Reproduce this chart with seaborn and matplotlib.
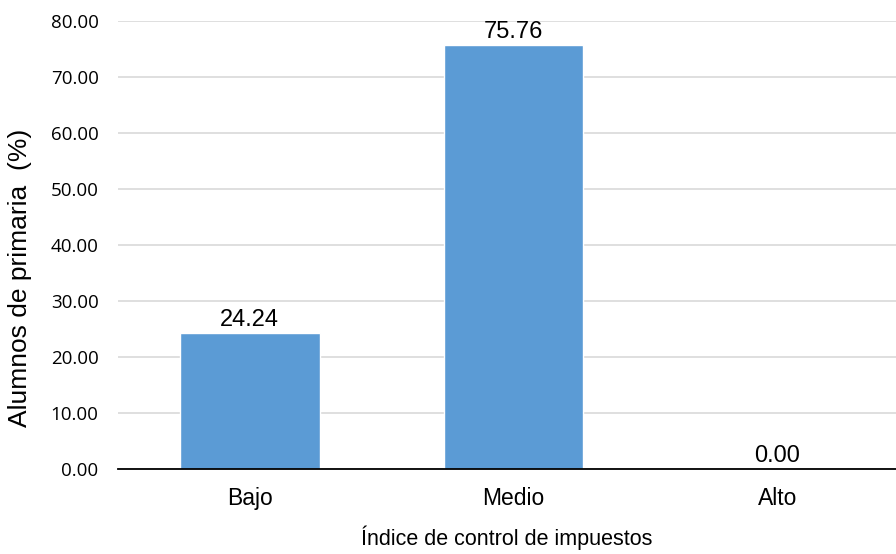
import matplotlib
matplotlib.use("Agg")
import matplotlib.pyplot as plt
import seaborn as sns
import pandas as pd

categories = ["Bajo", "Medio", "Alto"]
values = [24.24, 75.76, 0.00]
yticks = [0, 10, 20, 30, 40, 50, 60, 70, 80]

sns.set_theme(style="white")
plt.rcParams['font.family'] = ['Liberation Sans', 'DejaVu Sans']
plt.rcParams['text.color'] = 'black'
plt.rcParams['axes.labelcolor'] = 'black'
plt.rcParams['xtick.color'] = 'black'
plt.rcParams['ytick.color'] = 'black'

df = pd.DataFrame({"cat": categories, "val": values})

fig = plt.figure(figsize=(8.96, 5.54), dpi=100)
ax = fig.add_axes([0.1317, 0.1534, 0.8683, 0.8086])
sns.barplot(data=df, x="cat", y="val", color="#5B9BD5", width=0.53, ax=ax, zorder=3, saturation=1)

ax.set_ylim(0, 80)
ax.set_xlim(-0.5, 2.45)
ax.set_yticks(yticks)
ax.set_yticklabels([f"{t:.2f}" for t in yticks], fontfamily="Open Sans", fontsize=13.5)
ax.tick_params(axis='x', labelsize=16.5, length=0, pad=13)
ax.tick_params(axis='y', length=0, pad=14)
ax.yaxis.grid(True, color="#D9D9D9", linewidth=1.2, zorder=0)
for s in ["top", "right", "left"]:
    ax.spines[s].set_visible(False)
ax.spines["bottom"].set_color("black")
ax.spines["bottom"].set_linewidth(1.3)
ax.spines["bottom"].set_zorder(4)

for p, v in zip(ax.patches, values):
    ax.annotate(f"{v:.2f}", (p.get_x() + p.get_width() / 2, p.get_height()),
                xytext=(0, 1.5), textcoords="offset points", ha="center", va="bottom", fontsize=17)

ax.set_xlabel("Índice de control de impuestos", fontsize=15.5, labelpad=11)
ax.set_ylabel("Alumnos de primaria  (%)", fontsize=19)
ax.yaxis.set_label_coords(-0.111, 0.426)

fig.savefig("out.png", dpi=100)
